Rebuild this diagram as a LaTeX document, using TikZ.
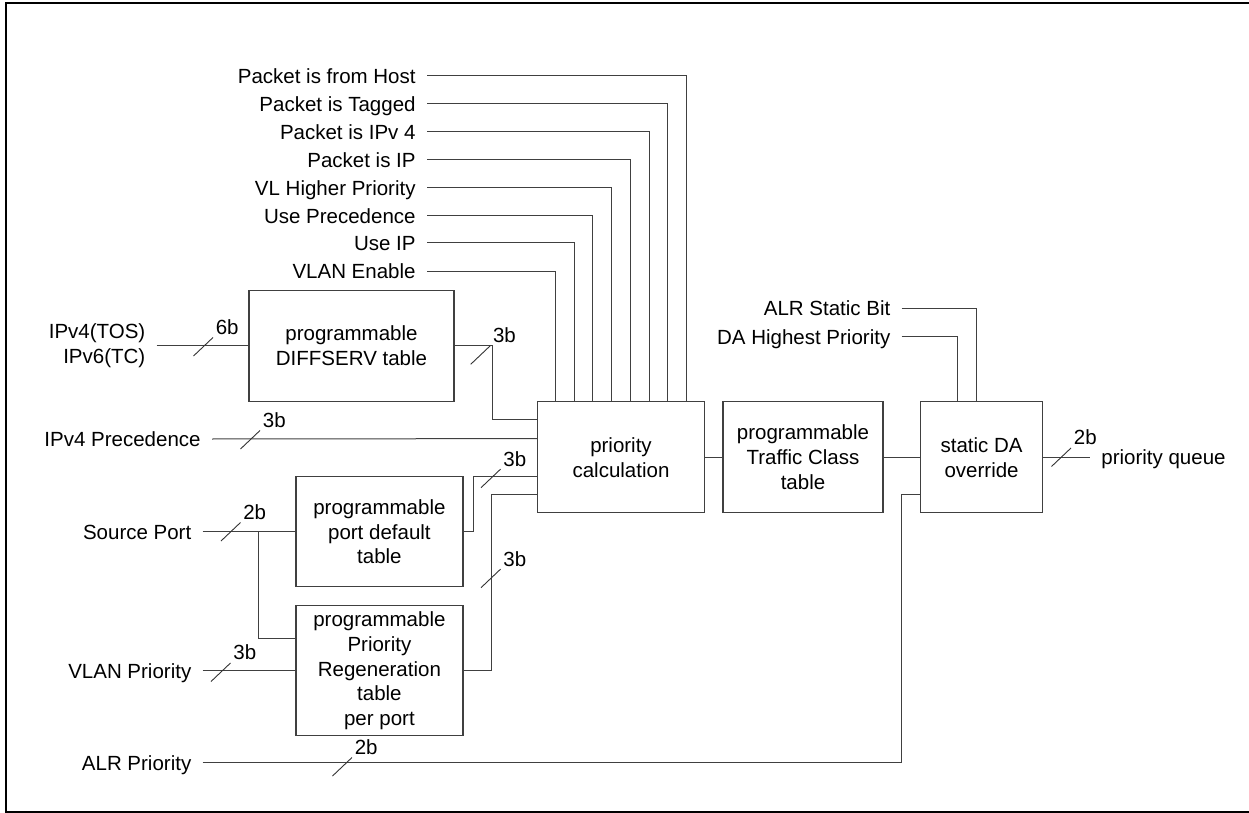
\documentclass[tikz,border=0pt]{standalone}
\usepackage{fontspec}
\setmainfont{Liberation Sans}
\usepackage{tikz}
\usetikzlibrary{calc}
\tikzset{
	blk/.style={draw=black!75, line width=0.6pt, align=center, inner sep=0pt},
	wire/.style={draw=black!75, line width=0.5pt},
	bus/.style={draw=black!80, line width=0.45pt},
	lbl/.style={anchor=east, inner xsep=5.5pt, inner ysep=0pt, text height=7.4pt, text depth=0pt},
	bits/.style={anchor=south west, inner sep=1.2pt},
}

\begin{document}
\begin{tikzpicture}[x=0.5pt, y=-0.5pt, font=\fontsize{10.25pt}{12.4pt}\selectfont]
		\useasboundingbox (0,0) rectangle (1249,813);
		\draw[line width=1pt] (1252,2.7) -- (6,2.7) -- (6,812) -- (1252,812);
		% blocks
		\node[blk, minimum width=102.5pt, minimum height=55.5pt] (diffserv) at (351.5,345.7) {programmable\\DIFFSERV table};
		\node[blk, minimum width=83.5pt, minimum height=55.5pt] (calc) at (621,457.3) {priority\\calculation};
		\node[blk, minimum width=83.5pt, minimum height=55pt] (portdef) at (379.4,531.8) {programmable\\port default\\table};
		\node[blk, minimum width=83.5pt, minimum height=65pt] (regen) at (379.4,670.8) {programmable\\Priority\\Regeneration\\table\\per port};
		\node[blk, minimum width=80pt, minimum height=55.5pt] (tclass) at (803,457.3) {programmable\\Traffic Class\\table};
		\node[blk, minimum width=61.25pt, minimum height=55.5pt] (dao) at (981.6,457.3) {static DA\\override};
		% labels
		\node[lbl] (host) at (427,76) {Packet is from Host};
		\node[lbl] (tagged) at (427,104) {Packet is Tagged};
		\node[lbl] (isvfour) at (427,132) {Packet is IPv 4};
		\node[lbl] (isip) at (427,160) {Packet is IP};
		\node[lbl] (vlhigh) at (427,188) {VL Higher Priority};
		\node[lbl] (useprec) at (427,216) {Use Precedence};
		\node[lbl] (useip) at (427,243) {Use IP};
		\node[lbl] (vlanen) at (427,271) {VLAN Enable};
		\node[anchor=east, align=right, inner xsep=5.5pt, inner ysep=0pt] (tos) at (156.7,345.7) {IPv4(TOS)\\IPv6(TC)};
		\node[lbl] (prec) at (212,439) {IPv4 Precedence};
		\node[lbl] (srcport) at (202.7,531.8) {Source Port};
		\node[lbl] (vlanpri) at (202.7,670.8) {VLAN Priority};
		\node[lbl] (alrpri) at (202.7,762.7) {ALR Priority};
		\node[lbl] (alrstatic) at (901.7,308.3) {ALR Static Bit};
		\node[lbl] (dahigh) at (901.7,336.7) {DA Highest Priority};
		\node[lbl, anchor=west] (queue) at (1090,457.3) {priority queue};
		% control bits into priority calculation
		\draw[wire] (host.east) -| ($(calc.north west)!8/9!(calc.north east)$);
		\draw[wire] (tagged.east) -| ($(calc.north west)!7/9!(calc.north east)$);
		\draw[wire] (isvfour.east) -| ($(calc.north west)!6/9!(calc.north east)$);
		\draw[wire] (isip.east) -| ($(calc.north west)!5/9!(calc.north east)$);
		\draw[wire] (vlhigh.east) -| ($(calc.north west)!4/9!(calc.north east)$);
		\draw[wire] (useprec.east) -| ($(calc.north west)!3/9!(calc.north east)$);
		\draw[wire] (useip.east) -| ($(calc.north west)!2/9!(calc.north east)$);
		\draw[wire] (vlanen.east) -| ($(calc.north west)!1/9!(calc.north east)$);
		% data paths
		\coordinate (cin1) at ($(calc.north west)!1/6!(calc.south west)$);
		\coordinate (cin2) at ($(calc.north west)!2/6!(calc.south west)$);
		\coordinate (cin4) at ($(calc.north west)!4/6!(calc.south west)$);
		\coordinate (cin5) at ($(calc.north west)!5/6!(calc.south west)$);
		\draw[wire] (tos.east) -- (diffserv.west);
		\draw[wire] (diffserv.east) -- ++(37.5,0) |- (cin1);
		\draw[wire] (prec.east) -- (cin2);
		\draw[wire] (srcport.east) -- (portdef.west);
		\path (portdef.west) ++(-37,0) coordinate (split);
		\draw[wire] (split) |- ($(regen.north west)!0.25!(regen.south west)$);
		\draw[wire] (portdef.east) -- ++(9.7,0) |- (cin4);
		\draw[wire] (vlanpri.east) -- (regen.west);
		\draw[wire] (regen.east) -- ++(28,0) |- (cin5);
		\draw[wire] (calc.east) -- (tclass.west);
		\draw[wire] (tclass.east) -- (dao.west);
		\draw[wire] (alrpri.east) -- ++(699,0) |- ($(dao.north west)!5/6!(dao.south west)$);
		\draw[wire] (dahigh.east) -| ($(dao.north west)!0.307!(dao.north east)$);
		\draw[wire] (alrstatic.east) -| ($(dao.north west)!0.456!(dao.north east)$);
		\draw[wire] (dao.east) -- (queue.west);
		% bus widths
		\draw[bus] (193.5,356) -- ++(19.5,-18.5) node[bits] (wtos) {6b};
		\draw[bus] (470.7,364.3) -- ++(19.5,-18.5) node[bits] (wdiff) {3b};
		\draw[bus] (240.5,449) -- ++(19.5,-18.5) node[bits] (wprec) {3b};
		\draw[bus] (221,541) -- ++(19.5,-18.5) node[bits] (wsrc) {2b};
		\draw[bus] (481,487.7) -- ++(19.5,-18.5) node[bits] (wport) {3b};
		\draw[bus] (211,681.5) -- ++(19.5,-18.5) node[bits] (wvlan) {3b};
		\draw[bus] (481,587.7) -- ++(19.5,-18.5) node[bits] (wregen) {3b};
		\draw[bus] (332.5,776) -- ++(19.5,-18.5) node[bits] (walr) {2b};
		\draw[bus] (1051.5,466.5) -- ++(19.5,-18.5) node[bits] (wout) {2b};
	\end{tikzpicture}
\end{document}
